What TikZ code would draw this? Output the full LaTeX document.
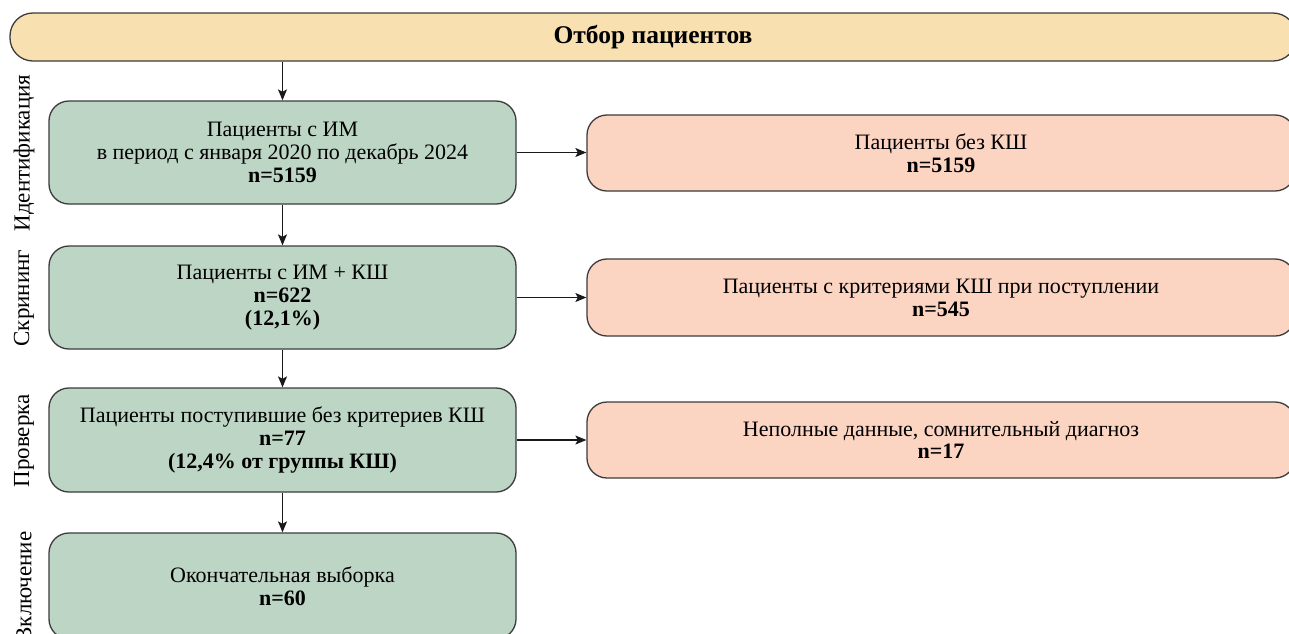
\documentclass[tikz,border=0pt]{standalone}
\usepackage{fontspec}
\setmainfont{Liberation Serif}
\usetikzlibrary{arrows.meta}
\definecolor{bannerfill}{HTML}{F9E0B0}
\definecolor{greenfill}{HTML}{BDD5C4}
\definecolor{salmonfill}{HTML}{FCD4C2}
\definecolor{edge}{HTML}{3C3C3C}
\tikzset{
  box/.style={draw=edge, line width=1.3pt, rounded corners=20pt, inner sep=0pt, align=center,
    font=\fontsize{22}{22.8}\selectfont},
  gbox/.style={box, fill=greenfill, minimum width=467pt},
  sbox/.style={box, fill=salmonfill, minimum width=708pt},
  banner/.style={draw=edge, line width=1.3pt, rounded corners=23pt, fill=bannerfill, inner sep=0pt,
    minimum width=1286pt, minimum height=48pt, font=\fontsize{25.5}{27}\selectfont\bfseries},
  phase/.style={rotate=90, inner sep=0pt, font=\fontsize{23}{24}\selectfont},
  arr/.style={draw=black!90, line width=1.2pt, -{Stealth[length=11pt,width=9pt,inset=2.5pt]}}
}
\begin{document}
\begin{tikzpicture}[x=1pt,y=-1pt]
\clip (0,0) rectangle (1289,633);
\fill[white] (0,0) rectangle (1289,633);
\node[banner] (ban) at (653,37) {Отбор пациентов};
\node[gbox, minimum height=103pt] (g1) at (282.5,152.5) {Пациенты с ИМ\\в период с января 2020 по декабрь 2024\\\textbf{n=5159}};
\node[gbox, minimum height=103pt] (g2) at (282.5,297.5) {Пациенты с ИМ + КШ\\\textbf{n=622}\\\textbf{(12,1\%)}};
\node[gbox, minimum height=104pt] (g3) at (282.5,440) {Пациенты поступившие без критериев КШ\\\textbf{n=77}\\\textbf{(12,4\% от группы КШ)}};
\node[gbox, minimum height=106pt] (g4) at (282.5,586) {Окончательная выборка\\\textbf{n=60}};
\node[sbox, minimum height=76pt] (s1) at (941,153) {Пациенты без КШ\\\textbf{n=5159}};
\node[sbox, minimum height=77pt] (s2) at (941,297.5) {Пациенты с критериями КШ при поступлении\\\textbf{n=545}};
\node[sbox, minimum height=76pt] (s3) at (941,440) {Неполные данные, сомнительный диагноз\\\textbf{n=17}};
\node[phase] (p1) at (24,153) {Идентификация};
\node[phase] (p2) at (24,298) {Скрининг};
\node[phase] (p3) at (24,441) {Проверка};
\node[phase] (p4) at (24,587) {Включение};
\draw[arr] (ban.south -| g1.north) -- (g1.north);
\draw[arr] (g1.south) -- (g2.north);
\draw[arr] (g2.south) -- (g3.north);
\draw[arr] (g3.south) -- (g4.north);
\draw[arr] (g1.east) -- (g1.east -| s1.west);
\draw[arr] (g2.east) -- (g2.east -| s2.west);
\draw[arr] (g3.east) -- (g3.east -| s3.west);
\end{tikzpicture}
\end{document}
